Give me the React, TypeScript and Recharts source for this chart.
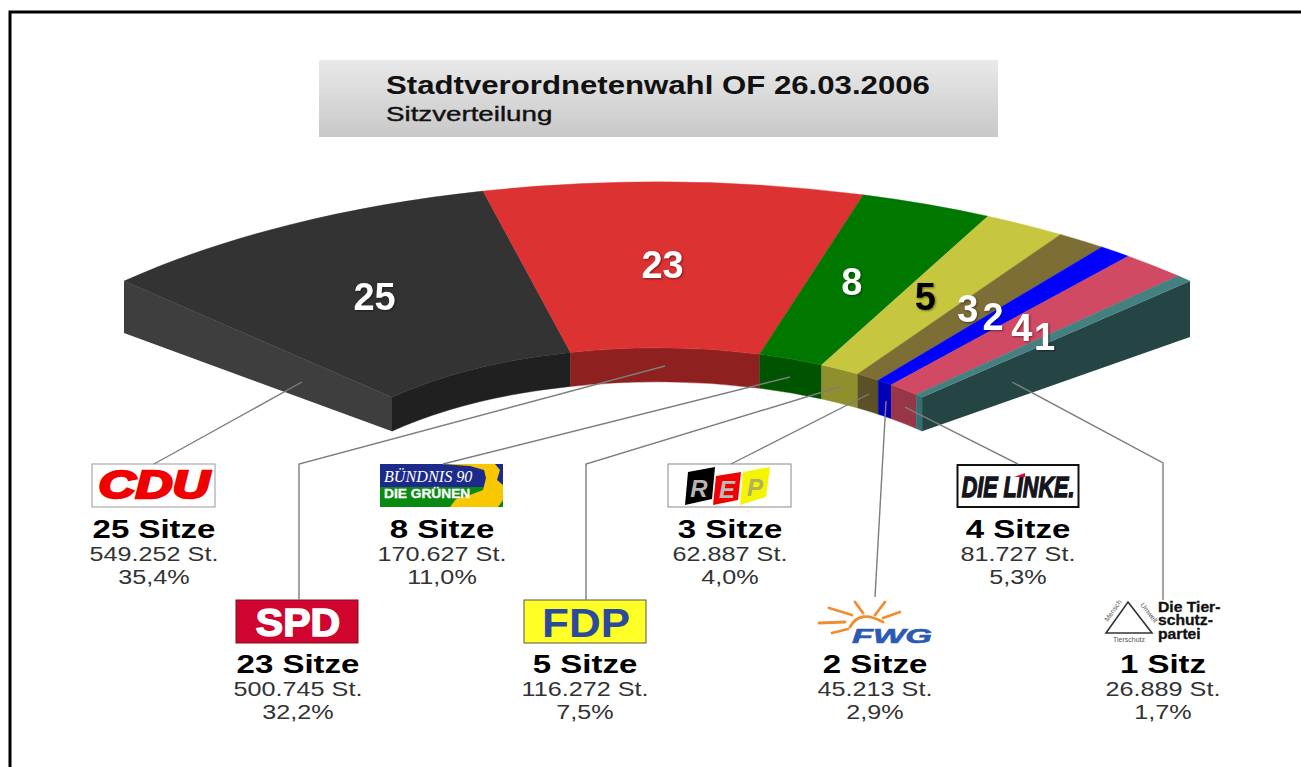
import React from "react";
import { PieChart, Pie } from "recharts";

const parties = ["CDU", "SPD", "Grüne", "FDP", "REP", "FWG", "Linke", "Tierschutz"];
const seats = [25, 23, 8, 5, 3, 2, 4, 1];
const seatLabels = ["25 Sitze", "23 Sitze", "8 Sitze", "5 Sitze", "3 Sitze", "2 Sitze", "4 Sitze", "1 Sitz"];
const votes = ["549.252 St.", "500.745 St.", "170.627 St.", "116.272 St.", "62.887 St.", "45.213 St.", "81.727 St.", "26.889 St."];
const percents = ["35,4%", "32,2%", "11,0%", "7,5%", "4,0%", "2,9%", "5,3%", "1,7%"];

const topColors = ["#333333", "#dc3232", "#007800", "#c6c63f", "#7d6e35", "#0000ff", "#cf4a62", "#458080"];
const wallColors = ["#202020", "#8e2020", "#005400", "#8f8f2e", "#5c5026", "#0000b8", "#983648", "#357070"];
const numberColors = ["#fff", "#fff", "#fff", "#000", "#fff", "#fff", "#fff", "#fff"];

const data = parties.map((name, i) => ({ name, value: seats[i] }));

const FONT = "'Liberation Sans', Arial, sans-serif";
const Y_SCALE = 0.4424;
const WALL = 34;
const rad = Math.PI / 180;

function pt(cx: number, cy: number, r: number, a: number) {
  return [cx + r * Math.cos(a * rad), cy - r * Y_SCALE * Math.sin(a * rad)];
}

function SeatSlice(props: any) {
  const { cx, cy, innerRadius: ri, outerRadius: ro, startAngle: a0, endAngle: a1, index } = props;
  const idx = index ?? parties.indexOf(props.name ?? props.payload?.name);
  const [ox0, oy0] = pt(cx, cy, ro, a0);
  const [ox1, oy1] = pt(cx, cy, ro, a1);
  const [ix0, iy0] = pt(cx, cy, ri, a0);
  const [ix1, iy1] = pt(cx, cy, ri, a1);
  const ery = ro * Y_SCALE;
  const iry = ri * Y_SCALE;
  const top = `M${ox0},${oy0}A${ro},${ery} 0 0 1 ${ox1},${oy1}L${ix1},${iy1}A${ri},${iry} 0 0 0 ${ix0},${iy0}Z`;
  const wall = `M${ix0},${iy0}A${ri},${iry} 0 0 1 ${ix1},${iy1}L${ix1},${iy1 + WALL}A${ri},${iry} 0 0 0 ${ix0},${iy0 + WALL}Z`;
  const color = topColors[idx];
  return (
    <g>
      {idx === 0 && <path d={`M${ox0},${oy0}L${ix0},${iy0}L${ix0},${iy0 + WALL}L${ox0},${oy0 + 52}Z`} fill="#3e3e3e" />}
      {idx === parties.length - 1 && <path d={`M${ox1},${oy1}L${ix1},${iy1}L${ix1},${iy1 + WALL}L${ox1},${oy1 + 56}Z`} fill="#254545" />}
      <path d={wall} fill={wallColors[idx]} stroke={wallColors[idx]} strokeWidth={0.4} />
      <path d={top} fill={color} stroke={color} strokeWidth={0.4} />
    </g>
  );
}

function SeatNumber(props: any) {
  const { cx, cy, innerRadius: ri, outerRadius: ro, midAngle, value, index } = props;
  const [x, y] = pt(cx, cy, (ri + ro) / 2, midAngle);
  return (
    <text x={x - 7} y={y + 13} textAnchor="middle" fontFamily={FONT} fontWeight="bold" fontSize={38}
      fill={numberColors[index]} style={{ filter: "drop-shadow(1px 1px 1px rgba(0,0,0,0.45))" }}>
      {value}
    </text>
  );
}

function Stretch({ x, y, sx = 1.2, size, weight, fill, anchor = "middle", style, children }: any) {
  return (
    <text transform={`translate(${x},${y}) scale(${sx},1)`} textAnchor={anchor} fontFamily={FONT}
      fontSize={size} fontWeight={weight} fill={fill} style={style}>{children}</text>
  );
}

const blockCenters = [154, 298, 442, 585, 730, 875, 1018, 1163];
const ROW_TOP = 538;
const ROW_LOW = 673;

const callouts = [
  "302,382 154,464",
  "665,366 299,464 299,600",
  "790,377 443,464",
  "839,387 586,464 586,600",
  "869,394 731,464",
  "886,401 875,597",
  "905,407 1018,464",
  "1012,382 1163,463 1163,600",
];

function Logos() {
  return (
    <g>
      {/* CDU */}
      <rect x={92} y={464} width={123} height={43} fill="#fff" stroke="#999" strokeWidth={1} />
      <Stretch x={154} y={498} sx={1.35} size={38} weight="bold" fill="#f00000" style={{ fontStyle: "italic", stroke: "#f00000", strokeWidth: 2.5 }}>CDU</Stretch>
      {/* SPD */}
      <rect x={236} y={600} width={122} height={43} fill="#d0052f" stroke="#7a1020" strokeWidth={1} />
      <Stretch x={298} y={636} sx={1.08} size={38} weight="bold" fill="#fff" style={{ stroke: "#fff", strokeWidth: 1.5 }}>SPD</Stretch>
      {/* Bündnis 90 / Die Grünen */}
      <rect x={380} y={464} width={123} height={23} fill="#1c2a8c" />
      <rect x={380} y={487} width={123} height={20} fill="#0a8a12" />
      <path d="M442,464 L495,464 L500,470 L497,480 L503,485 L503,500 L498,507 L450,507 L456,499 L470,495 L483,490 L486,478 L484,470 L470,466 Z" fill="#f7c800" />
      <text transform="translate(384,482) scale(0.98,1)" fontFamily="'Liberation Serif', serif" fontStyle="italic" fontSize={16.5} fill="#fff">BÜNDNIS 90</text>
      <Stretch x={384} y={498} anchor="start" sx={1.1} size={12.5} weight="bold" fill="#fff" style={{ stroke: "#fff", strokeWidth: 0.3 }}>DIE GRÜNEN</Stretch>
      {/* FDP */}
      <rect x={524} y={600} width={122} height={43} fill="#ffff26" stroke="#555" strokeWidth={1} />
      <Stretch x={586} y={637} sx={1.1} size={40} weight="bold" fill="#2b4a9e">FDP</Stretch>
      {/* REP */}
      <rect x={668} y={464} width={123} height={43} fill="#fff" stroke="#888" strokeWidth={1} />
      <path d="M688,472 L715,467 L712,499 L685,505 Z" fill="#000" />
      <path d="M716,476 L741,472 L738,500 L713,505 Z" fill="#f00000" />
      <path d="M743,472 L770,467 L766,497 L740,505 Z" fill="#f5f500" />
      <Stretch x={699} y={497} sx={1} size={24} weight="bold" fill="#b5b5b5" style={{ fontStyle: "italic" }}>R</Stretch>
      <Stretch x={727} y={498} sx={1} size={24} weight="bold" fill="#bbb" style={{ fontStyle: "italic" }}>E</Stretch>
      <Stretch x={755} y={496} sx={1} size={24} weight="bold" fill="#b0b060" style={{ fontStyle: "italic" }}>P</Stretch>
      {/* FWG */}
      <g stroke="#f08c32" strokeWidth={2.8} strokeLinecap="round" fill="none">
        <path d="M819,623 L845,622" />
        <path d="M832,633 L848,629" />
        <path d="M829,608 L852,615" />
        <path d="M855,602 L863,613" />
        <path d="M885,602 L875,615" />
        <path d="M900,612 L883,618" />
        <path d="M850,627 Q860,609 883,622" />
      </g>
      <Stretch x={892} y={643} sx={1.72} size={20} weight="bold" fill="#2a5ab4" style={{ fontStyle: "italic", stroke: "#2a5ab4", strokeWidth: 0.6 }}>FWG</Stretch>
      {/* Die Linke */}
      <rect x={957.5} y={465} width={121} height={42} fill="#fff" stroke="#111" strokeWidth={2} />
      <Stretch x={1018} y={497} sx={0.72} size={30} weight="bold" fill="#14141c" style={{ fontStyle: "italic", stroke: "#14141c", strokeWidth: 1.4 }}>DIE LINKE.</Stretch>
      <path d="M1014,477 L1025,473 L1025,477 Z" fill="#e8002a" />
      {/* Tierschutzpartei */}
      <path d="M1128,602 L1152,633 L1106,633 Z" fill="none" stroke="#333" strokeWidth={1.6} />
      <text x={1129} y={642} textAnchor="middle" fontFamily={FONT} fontSize={7} fill="#555">Tierschutz</text>
      <text transform="translate(1108,622) rotate(-55)" fontFamily={FONT} fontSize={7} fill="#555">Mensch</text>
      <text transform="translate(1140,605) rotate(52)" fontFamily={FONT} fontSize={7} fill="#555">Umwelt</text>
      <Stretch x={1158} y={612} anchor="start" sx={1.12} size={14} weight="bold" fill="#111" style={{ stroke: "#111", strokeWidth: 0.3 }}>Die Tier-</Stretch>
      <Stretch x={1158} y={625} anchor="start" sx={1.12} size={14} weight="bold" fill="#111" style={{ stroke: "#111", strokeWidth: 0.3 }}>schutz-</Stretch>
      <Stretch x={1158} y={639} anchor="start" sx={1.12} size={14} weight="bold" fill="#111" style={{ stroke: "#111", strokeWidth: 0.3 }}>partei</Stretch>
    </g>
  );
}

export default function App() {
  return (
    <div style={{ position: "absolute", left: 0, top: 0, width: 1301, height: 767, background: "#fff", overflow: "hidden" }}>
      <PieChart width={1301} height={767} margin={{ top: 0, right: 0, bottom: 0, left: 0 }}>
        <defs>
          <linearGradient id="titleBg" x1="0" y1="0" x2="0" y2="1">
            <stop offset="0" stopColor="#e9e9e9" />
            <stop offset="1" stopColor="#c8c8c8" />
          </linearGradient>
        </defs>
        <path d="M10,767 L10,12 L1301,12" fill="none" stroke="#000" strokeWidth={3} />
        <rect x={319} y={60} width={679} height={77} fill="url(#titleBg)" />
        <Stretch x={386} y={94} anchor="start" sx={1.247} size={25} weight="bold" fill="#111">Stadtverordnetenwahl OF 26.03.2006</Stretch>
        <Stretch x={386} y={121} anchor="start" sx={1.32} size={21} weight="normal" fill="#111" style={{ stroke: "#111", strokeWidth: 0.4 }}>Sitzverteilung</Stretch>
        <Pie
          data={data}
          dataKey="value"
          nameKey="name"
          cx={657}
          cy={512}
          innerRadius={371}
          outerRadius={746}
          startAngle={135.6}
          endAngle={44.4}
          paddingAngle={0}
          stroke="none"
          isAnimationActive={false}
          labelLine={false}
          label={SeatNumber}
          shape={SeatSlice}
        />
        <Logos />
        {parties.map((name, i) => {
          const base = i % 2 === 0 ? ROW_TOP : ROW_LOW;
          const x = blockCenters[i];
          return (
            <g key={name}>
              <Stretch x={x} y={base} sx={1.27} size={26} weight="bold" fill="#000">{seatLabels[i]}</Stretch>
              <Stretch x={x} y={base + 23} sx={1.2} size={21} fill="#333">{votes[i]}</Stretch>
              <Stretch x={x} y={base + 46} sx={1.2} size={21} fill="#333">{percents[i]}</Stretch>
            </g>
          );
        })}
      </PieChart>
      <svg width={1301} height={767} style={{ position: "absolute", left: 0, top: 0, pointerEvents: "none" }}>
        {callouts.map((points) => (
          <polyline key={points} points={points} fill="none" stroke="#7d7d7d" strokeWidth={1.4} />
        ))}
      </svg>
    </div>
  );
}
